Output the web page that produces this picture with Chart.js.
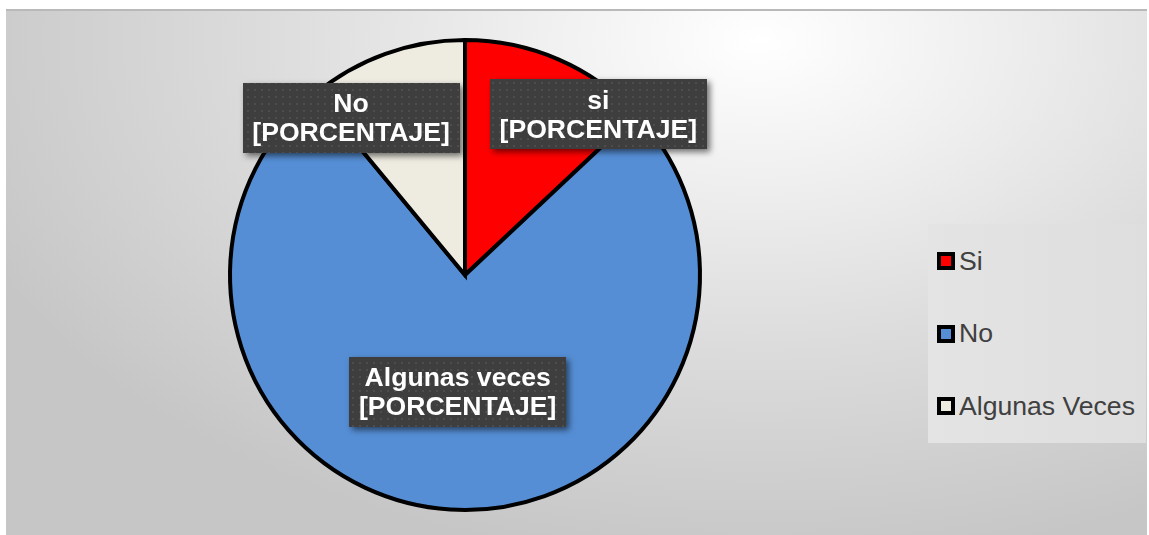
<!DOCTYPE html>
<html lang="es">
<head>
    <meta charset="UTF-8">
    <title>Si / No / Algunas Veces</title>
    <script src="https://cdn.jsdelivr.net/npm/chart.js"></script>
    <style>
        body {
            margin: 0;
            background: #ffffff;
            font-family: 'Liberation Sans', Arial, sans-serif;
        }
        .frame {
            position: absolute;
            left: 6px;
            top: 9px;
            width: 1141px;
            height: 526px;
            background: radial-gradient(ellipse 75% 100% at 66% 6%, #ffffff 0%, #f2f2f2 22%, #dcdcdc 58%, #c6c6c6 100%);
            box-shadow: inset 0 2px 0 #b9b9b9;
        }
        .chart-box {
            position: absolute;
            left: 0;
            top: 0;
            width: 100%;
            height: 100%;
        }
        .legend {
            position: absolute;
            left: 922px;
            top: 215px;
            width: 218px;
            height: 219px;
            background: linear-gradient(90deg, #e4e4e4 0%, #dedede 100%);
        }
        .legend-item {
            position: absolute;
            left: 9px;
            height: 26px;
            display: flex;
            align-items: center;
            font-size: 26.6px;
            color: #404040;
            white-space: nowrap;
        }
        .legend-item span.box {
            display: inline-block;
            width: 10px;
            height: 10px;
            border: 4px solid #000;
            margin-right: 4px;
        }
    </style>
</head>
<body>
    <div class="frame">
        <div class="chart-box">
            <canvas id="pie"></canvas>
        </div>
        <div class="legend" id="legend"></div>
    </div>

    <script>
        // datos
        const categories = ['Si', 'No', 'Algunas Veces'];
        const values = [13, 76, 11];
        const sliceColors = ['#ff0000', '#558ed5', '#eeece1'];
        // textos de las etiquetas tal como aparecen
        const labelTitles = ['si', 'Algunas veces', 'No'];
        const labelValueText = '[PORCENTAJE]';

        // ubicacion de cada etiqueta: giro respecto al centro del sector y fraccion del radio
        const labelPlace = [
            { shift: 16.3, r: 0.888 },
            { shift: 0, r: 0.497 },
            { shift: -16.1, r: 0.827 }
        ];

        // trama de puntos del fondo de las etiquetas
        function dotPattern(ctx) {
            const c = document.createElement('canvas');
            c.width = 7;
            c.height = 7;
            const p = c.getContext('2d');
            p.fillStyle = '#3e3e3e';
            p.fillRect(0, 0, 7, 7);
            p.fillStyle = '#4d4d4d';
            p.fillRect(3, 3, 2, 2);
            return ctx.createPattern(c, 'repeat');
        }

        const labelBoxes = {
            id: 'labelBoxes',
            afterDatasetsDraw(chart) {
                const ctx = chart.ctx;
                const meta = chart.getDatasetMeta(0);
                const pattern = dotPattern(ctx);
                const w = 217, h = 70;
                meta.data.forEach((arc, i) => {
                    const p = arc.getProps(['x', 'y', 'startAngle', 'endAngle', 'outerRadius'], true);
                    const a = (p.startAngle + p.endAngle) / 2 + labelPlace[i].shift * Math.PI / 180;
                    const r = p.outerRadius * labelPlace[i].r;
                    const cx = p.x + Math.cos(a) * r;
                    const cy = p.y + Math.sin(a) * r;
                    ctx.save();
                    ctx.shadowColor = 'rgba(0,0,0,0.55)';
                    ctx.shadowBlur = 6;
                    ctx.shadowOffsetX = 3;
                    ctx.shadowOffsetY = 3;
                    ctx.fillStyle = pattern;
                    ctx.fillRect(Math.round(cx - w / 2), Math.round(cy - h / 2), w, h);
                    ctx.restore();

                    ctx.save();
                    ctx.fillStyle = '#ffffff';
                    ctx.font = "bold 26.6px 'Liberation Sans', Arial, sans-serif";
                    ctx.textAlign = 'center';
                    ctx.textBaseline = 'middle';
                    ctx.fillText(labelTitles[i], cx, cy - 13);
                    ctx.fillText(labelValueText, cx, cy + 16);
                    ctx.restore();
                });
            }
        };

        const chart = new Chart(document.getElementById('pie'), {
            type: 'pie',
            data: {
                labels: categories,
                datasets: [{
                    data: values,
                    backgroundColor: sliceColors,
                    borderColor: '#000000',
                    borderWidth: 4,
                    borderJoinStyle: 'miter'
                }]
            },
            options: {
                responsive: true,
                maintainAspectRatio: false,
                animation: false,
                layout: {
                    padding: { left: 222, right: 445, top: 29, bottom: 23 }
                },
                plugins: {
                    legend: { display: false },
                    tooltip: { enabled: false }
                }
            },
            plugins: [labelBoxes]
        });

        // leyenda en HTML construida con las etiquetas del propio Chart.js
        const legendEl = document.getElementById('legend');
        const items = chart.options.plugins.legend.labels.generateLabels(chart);
        items.forEach((item, i) => {
            const row = document.createElement('div');
            row.className = 'legend-item';
            row.style.top = (24 + i * 72.5) + 'px';
            const box = document.createElement('span');
            box.className = 'box';
            box.style.background = item.fillStyle;
            const txt = document.createElement('span');
            txt.textContent = item.text;
            row.appendChild(box);
            row.appendChild(txt);
            legendEl.appendChild(row);
        });
    </script>
</body>
</html>
